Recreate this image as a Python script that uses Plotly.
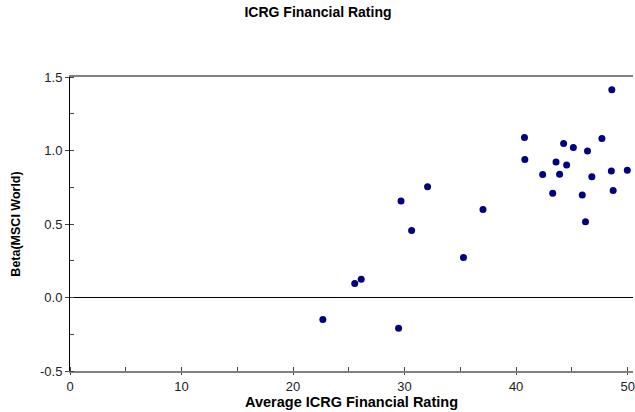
import plotly.graph_objects as go

rating = [48.58, 40.75, 47.69, 44.26, 45.13, 46.40, 40.78, 43.58, 44.53, 42.38,
          43.90, 46.79, 48.54, 49.97, 32.06, 43.28, 45.93, 48.70, 29.68, 37.03,
          30.63, 46.22, 35.28, 22.67, 25.53, 26.11, 29.46]
beta = [1.413, 1.089, 1.082, 1.048, 1.021, 0.996, 0.939, 0.921, 0.901, 0.837,
        0.839, 0.821, 0.860, 0.865, 0.753, 0.710, 0.698, 0.728, 0.656, 0.599,
        0.456, 0.515, 0.272, -0.150, 0.095, 0.125, -0.209]

x_ticks = [0, 10, 20, 30, 40, 50]
y_ticks = [-0.5, 0.0, 0.5, 1.0, 1.5]

fig = go.Figure()
fig.add_trace(go.Scatter(
    x=rating, y=beta, mode="markers",
    marker=dict(color="#000080", size=7),
    hoverinfo="x+y", showlegend=False,
))

font = "Liberation Sans, Arial, sans-serif"
fig.update_layout(
    width=635, height=412,
    margin=dict(l=70, r=0, t=77, b=41, pad=0),
    paper_bgcolor="white", plot_bgcolor="white",
    font=dict(family=font, size=13, color="#222"),
    title=dict(text="<b>ICRG Financial Rating</b>", x=318/635, xref="container",
               y=1 - 12/412, yanchor="middle", font=dict(size=14, color="black")),
)
fig.update_xaxes(
    range=[0, 50.48], tickvals=x_ticks, ticktext=[str(v) for v in x_ticks],
    showgrid=False, zeroline=False, ticklabeloverflow="allow",
    showline=True, linecolor="#808080", linewidth=2, mirror=True,
    ticks="outside", ticklen=2, tickcolor="#444", tickwidth=1,
    minor=dict(dtick=5, ticks="inside", ticklen=4, tickcolor="#444", tickwidth=1),
    tickfont=dict(size=13, color="#222"),
    title=dict(text="<b>Average ICRG Financial Rating</b>", standoff=0,
               font=dict(size=14.5, color="black")),
)
fig.update_yaxes(
    range=[-0.5, 1.5], tickvals=y_ticks, ticktext=["%.1f" % v for v in y_ticks],
    showgrid=False, zeroline=True, zerolinecolor="black", zerolinewidth=1,
    showline=True, linecolor="black", linewidth=1,
    ticks="outside", ticklen=4, tickcolor="#444", tickwidth=1,
    minor=dict(dtick=0.25, ticks="inside", ticklen=4, tickcolor="#444", tickwidth=1),
    tickfont=dict(size=13, color="#222"),
    title=dict(text="<b>Beta(MSCI World)</b>", standoff=16,
               font=dict(size=12.5, color="black")),
)

fig.write_html("out.html", config={"displayModeBar": False},
               post_script="document.body.style.margin='0';")
